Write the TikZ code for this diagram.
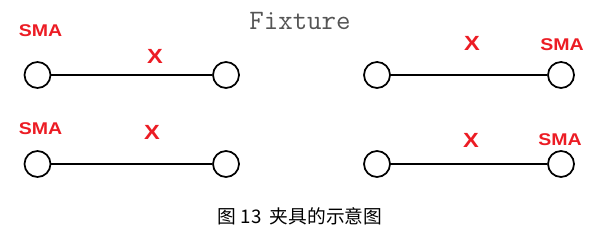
\documentclass[tikz,border=0pt]{standalone}
\usepackage{fontspec}
\setmainfont{Liberation Sans}
\newfontfamily\lblfnt[FakeStretch=1.15]{Liberation Sans}
\newfontfamily\fixfnt{Latin Modern Mono}
\newfontfamily\cjkfnt{Noto Sans CJK SC}
\usepackage{tikz}
\usetikzlibrary{positioning}
\definecolor{smared}{RGB}{236,28,36}
\definecolor{fixgray}{RGB}{85,85,85}
\tikzset{
  port/.style={circle, draw=black, line width=1.5pt, minimum size=0.78cm, inner sep=0pt, fill=white},
  cable/.style={line width=1.5pt, draw=black},
  smalbl/.style={text=smared, inner sep=0pt, font=\lblfnt\bfseries\fontsize{14.5}{14.5}\selectfont},
  xlbl/.style={text=smared, inner sep=0pt, font=\lblfnt\bfseries\fontsize{17.5}{17.5}\selectfont},
}

\begin{document}
\begin{tikzpicture}[x=0.03cm, y=-0.03cm]
    \useasboundingbox (0,0) rectangle (600,235);
    \node[inner sep=0pt, text=fixgray, font=\fixfnt\fontsize{24}{24}\selectfont] (title) at (300,21) {Fixture};
    % left column
    \node[port] (l1a) at (37.5,75) {};
    \node[port] (l1b) at (226,75) {};
    \node[port] (l2a) at (37.5,164) {};
    \node[port] (l2b) at (226,164) {};
    % right column
    \node[port] (r1a) at (377,75) {};
    \node[port] (r1b) at (561,75) {};
    \node[port] (r2a) at (377,164) {};
    \node[port] (r2b) at (561,164) {};
    \foreach \x/\y in {l1a/l1b,l2a/l2b,r1a/r1b,r2a/r2b}{\draw[cable] (\x)--(\y);}
    % labels
    \node[smalbl] (s1) at (40.5,31) {SMA};
    \node[xlbl] (x1) at (155,56) {X};
    \node[smalbl] (s2) at (40.5,128.5) {SMA};
    \node[xlbl] (x2) at (152,132.5) {X};
    \node[xlbl] (x3) at (472,43.5) {X};
    \node[smalbl] (s3) at (562,44.5) {SMA};
    \node[xlbl] (x4) at (471,140) {X};
    \node[smalbl] (s4) at (560,140) {SMA};
    \node[inner sep=0pt, font=\cjkfnt\fontsize{16}{16}\selectfont] (cap) at (300,216) {图 13\ \ 夹具的示意图};
  \end{tikzpicture}
\end{document}
